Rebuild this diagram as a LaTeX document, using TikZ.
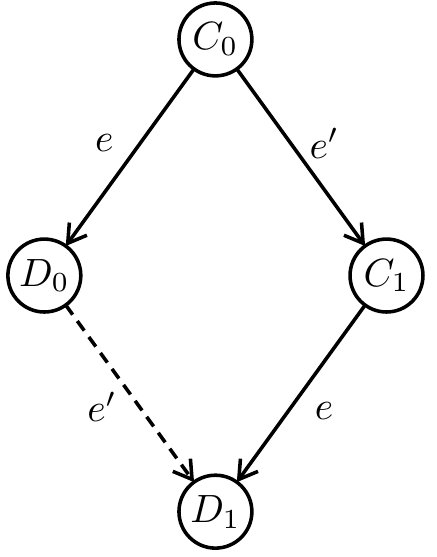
\documentclass[tikz,border=0pt]{standalone}
\usepackage{amsmath}
\usepackage{amssymb}
\usepackage{tikz}
\usetikzlibrary{matrix, arrows.meta, calc}

\begin{document}
\begin{tikzpicture} [>={Straight Barb[length=4.5pt, width=5.5pt]}, line width=.9pt,
  circ/.style={draw, circle, inner sep=0pt, minimum size=18.5pt}]
\matrix (m) [inner sep=0pt, outer sep=0pt, column sep = 24pt, row sep = 40.5pt]{
& \node[circ](c0){$C_0$}; & \\
\node[circ](d0){$D_0$}; & & \node[circ](c1){$C_1$}; \\
& \node[circ](d1){$D_1$}; & \\
};
\useasboundingbox ($(d0.center |- d1.center)+(-11.25pt,-11.5pt)$) rectangle ($(c1.center |- c0.center)+(12.75pt,10pt)$);
\draw[->] (c0) -- node[pos=.42, left=3pt]{$e$} (d0);
\draw[->] (c0) -- node[pos=.42, right=1pt]{$e'$} (c1);
\draw[->, dash pattern=on 3pt off 2pt] (d0) -- node[pos=.575, left=2pt]{$e'$} (d1);
\draw[->] (c1) -- node[pos=.6, right=3pt]{$e$} (d1);
\end{tikzpicture}
\end{document}
